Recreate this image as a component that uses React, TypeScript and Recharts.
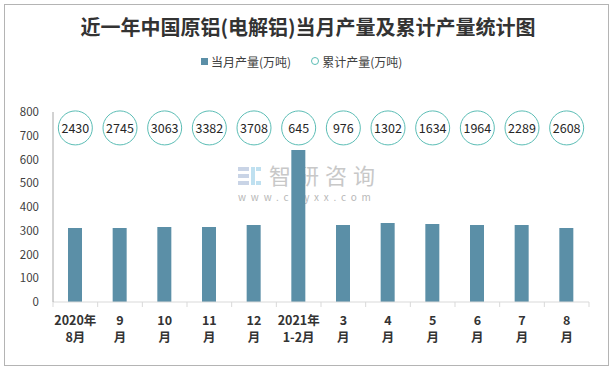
import { ComposedChart, Bar, Line, XAxis, YAxis } from "recharts";

const categories = [
  "2020年\n8月",
  "9\n月",
  "10\n月",
  "11\n月",
  "12\n月",
  "2021年\n1-2月",
  "3\n月",
  "4\n月",
  "5\n月",
  "6\n月",
  "7\n月",
  "8\n月",
];
const monthly = [312, 312, 316, 316, 324, 640, 324, 333, 328, 324, 324, 312];
const cumulative = [2430, 2745, 3063, 3382, 3708, 645, 976, 1302, 1634, 1964, 2289, 2608];
const yTicks = [0, 100, 200, 300, 400, 500, 600, 700, 800];

// the cumulative figures sit in a row of bubbles at this height on the left axis
const BUBBLE_ROW = 733;

const data = categories.map((c, i) => ({
  cat: c,
  monthly: monthly[i],
  cumulative: cumulative[i],
  row: BUBBLE_ROW,
}));

const BAR = "#5b8fa7";
const TEAL = "#5bbdb5";
const FONT = '"Noto Sans CJK SC", "Noto Sans", sans-serif';

const XTick = (props: any) => {
  const { x, y, payload, index } = props;
  const [a, b] = String(payload.value).split("\n");
  const half = payload.offset ?? 22.33;
  return (
    <g>
      <line x1={x - half} x2={x - half} y1={y} y2={y + 5} stroke="#d9d9d9" />
      {index === categories.length - 1 && (
        <line x1={x + half} x2={x + half} y1={y} y2={y + 5} stroke="#d9d9d9" />
      )}
      <text x={x} y={y + 23} textAnchor="middle" fontSize={12.5} fontWeight="bold" fill="#333" fontFamily={FONT}>
        {a}
      </text>
      <text x={x} y={y + 40} textAnchor="middle" fontSize={12.5} fontWeight="bold" fill="#333" fontFamily={FONT}>
        {b}
      </text>
    </g>
  );
};

const Bubble = (props: any) => {
  const { cx, cy, payload, index } = props;
  if (cx == null || cy == null) return <g key={index} />;
  return (
    <g key={index}>
      <circle cx={cx} cy={cy} r={17} fill="#fff" stroke={TEAL} strokeWidth={1} />
      <text x={cx} y={cy} textAnchor="middle" dominantBaseline="central" fontSize={12.5} fill="#262626" fontFamily={FONT}>
        {payload.cumulative}
      </text>
    </g>
  );
};

export default function App() {
  return (
    <div style={{ position: "relative", width: 616, height: 369, background: "#fff", fontFamily: FONT }}>
      <style>{"body{margin:0}"}</style>
      <div
        style={{
          position: "absolute",
          left: 4,
          top: 4,
          width: 605,
          height: 362,
          boxSizing: "border-box",
          border: "1px solid #b4b4b4",
        }}
      />
      {/* watermark */}
      <div style={{ position: "absolute", left: 237, top: 163, zIndex: 0 }}>
        <svg width={200} height={44} style={{ display: "block" }}>
          <rect x={1} y={4} width={11} height={4} fill="#c9d4e6" />
          <rect x={1} y={11} width={11} height={4} fill="#c9d4e6" />
          <rect x={1} y={18} width={11} height={4} fill="#c9d4e6" />
          <rect x={14} y={4} width={4} height={18} fill="#bfe0f0" />
          <rect x={19} y={4} width={5} height={4} fill="#bfe0f0" />
          <rect x={19} y={18} width={5} height={4} fill="#bfe0f0" />
          <text x={32} y={21} fontSize={22} fill="#c8c8c8" letterSpacing={6} fontFamily={FONT}>
            智研咨询
          </text>
          <text x={1} y={38} fontSize={10} fill="#b8b8b8" letterSpacing={4.8} fontFamily={FONT}>
            www.chyxx.com
          </text>
        </svg>
      </div>
      <div
        style={{
          position: "absolute",
          left: 0,
          width: 616,
          top: 13,
          textAlign: "center",
          fontSize: 20,
          fontWeight: "bold",
          color: "#333",
          lineHeight: "28px",
        }}
      >
        近一年中国原铝(电解铝)当月产量及累计产量统计图
      </div>
      <div style={{ position: "absolute", left: 201, top: 52, height: 18, display: "flex", alignItems: "center", fontSize: 12, color: "#404040" }}>
        <span style={{ width: 7, height: 7, background: BAR, display: "inline-block", marginRight: 3 }} />
        <span>当月产量(万吨)</span>
        <span
          style={{
            width: 6,
            height: 6,
            borderRadius: "50%",
            border: `1px solid ${TEAL}`,
            display: "inline-block",
            marginLeft: 20,
            marginRight: 3,
          }}
        />
        <span>累计产量(万吨)</span>
      </div>
      <div style={{ position: "absolute", left: 0, top: 0, zIndex: 1 }}>
        <ComposedChart width={616} height={369} data={data} margin={{ top: 112, right: 27, bottom: 37, left: 0 }}>
          <XAxis
            dataKey="cat"
            interval={0}
            height={30}
            tickLine={false}
            tickSize={0}
            tickMargin={0}
            axisLine={{ stroke: "#d9d9d9" }}
            tick={<XTick />}
          />
          <YAxis
            domain={[0, 800]}
            ticks={yTicks}
            width={53}
            tickLine={false}
            tickMargin={8}
            axisLine={{ stroke: "#a6a6a6" }}
            tick={{ fontSize: 11.5, fill: "#404040", fontFamily: FONT }}
          />
          <Bar dataKey="monthly" fill={BAR} barSize={14} isAnimationActive={false} />
          <Line
            dataKey="row"
            stroke="none"
            dot={(p: any) => <Bubble key={p.index} {...p} />}
            activeDot={false}
            isAnimationActive={false}
          />
        </ComposedChart>
      </div>
    </div>
  );
}
